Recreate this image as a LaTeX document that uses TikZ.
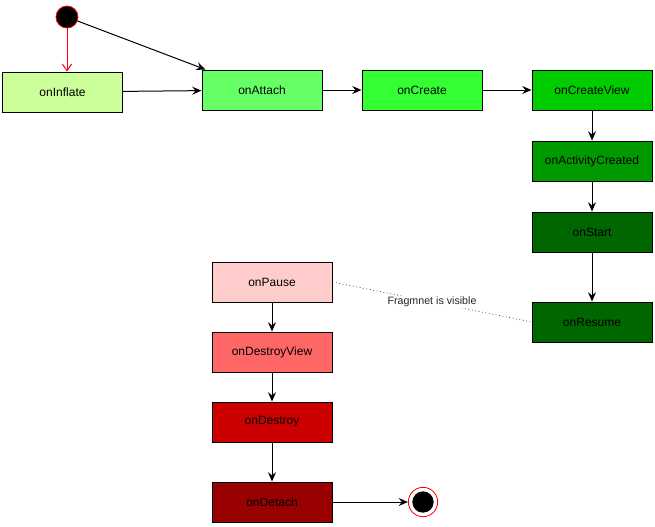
\documentclass[tikz,border=0pt]{standalone}
\usepackage{fontspec}
\setmainfont{Liberation Sans}
\usetikzlibrary{arrows.meta}

\begin{document}
\begin{tikzpicture}[x=0.75pt, y=-0.75pt,
	state/.style={draw=black, line width=0.75pt, minimum width=90pt, minimum height=30pt, inner sep=0pt, font=\fontsize{9}{11}\selectfont},
	flow/.style={draw=black, line width=0.75pt, -{Stealth[length=7pt, width=6pt, inset=2.5pt]}}]
				\definecolor{INFLATE}{RGB}{204, 255, 153}
				\definecolor{ATTACH}{RGB}{102, 255, 102}
				\definecolor{CREATE}{RGB}{51, 255, 51}
				\definecolor{CREATE_VIEW}{RGB}{0, 204, 0}
				\definecolor{ACTIVITY}{RGB}{0, 153, 0}
				\definecolor{START}{RGB}{0, 102, 0}
				\definecolor{RESUME}{RGB}{0, 102, 0}
				\definecolor{PAUSE}{RGB}{255, 204, 204}
				\definecolor{DESTROY_VIEW}{RGB}{255, 102, 102}
				\definecolor{DESTROY}{RGB}{204, 0, 0}
				\definecolor{DETACH}{RGB}{153, 0, 0}
				\definecolor{RING}{RGB}{255, 0, 0}
				\useasboundingbox (0, 0) rectangle (655, 526);
				
				\node[circle, draw=RING, fill=black, line width=0.6pt, minimum size=16.5pt, inner sep=0pt] (init) at (67, 17) {};
				
				\node[state, fill=INFLATE] (inflate) at (62.5, 92) {onInflate};
				\node[state, fill=ATTACH] (attach) at (262, 90) {onAttach};
				\node[state, fill=CREATE] (create) at (422, 90) {onCreate};
				\node[state, fill=CREATE_VIEW] (createview) at (592, 90) {onCreateView};
				\node[state, fill=ACTIVITY] (activity) at (592, 161) {onActivityCreated};
				\node[state, fill=START] (start) at (592, 232) {onStart};
				\node[state, fill=RESUME] (resume) at (592, 322) {onResume};
				
				\node[state, fill=PAUSE] (pause) at (272, 282) {onPause};
				\node[state, fill=DESTROY_VIEW] (destroyview) at (272, 352) {onDestroyView};
				\node[state, fill=DESTROY] (destroy) at (272, 422) {onDestroy};
				\node[state, fill=DETACH] (detach) at (272, 502) {onDetach};
				
				\node[circle, draw=RING, fill=white, line width=0.6pt, minimum size=22pt, inner sep=0pt] (final) at (423, 502) {};
				\node[circle, fill=black, minimum size=16pt, inner sep=0pt] (finaldot) at (final) {};
				
				\draw[flow, draw=RING, -{Straight Barb[length=5pt, width=7pt]}] (init.south) -- (inflate.north -| init.south);
				\draw[flow] (init) -- ([xshift=3pt]attach.north west);
				\draw[flow] (inflate) -- (attach);
				\draw[flow] (attach) -- (create);
				\draw[flow] (create) -- (createview);
				\draw[flow] (createview) -- (activity);
				\draw[flow] (activity) -- (start);
				\draw[flow] (start) -- (resume);
				\draw[flow] (pause) -- (destroyview);
				\draw[flow] (destroyview) -- (destroy);
				\draw[flow] (destroy) -- (detach);
				\draw[flow] (detach) -- (final);
				
				\draw[black!70, line width=0.6pt, dotted] (pause.east) -- node[fill=white, inner sep=1pt, text=black!85, font=\fontsize{8}{10}\selectfont] (visible) {Fragmnet is visible} (resume.west);
				
			\end{tikzpicture}
\end{document}
